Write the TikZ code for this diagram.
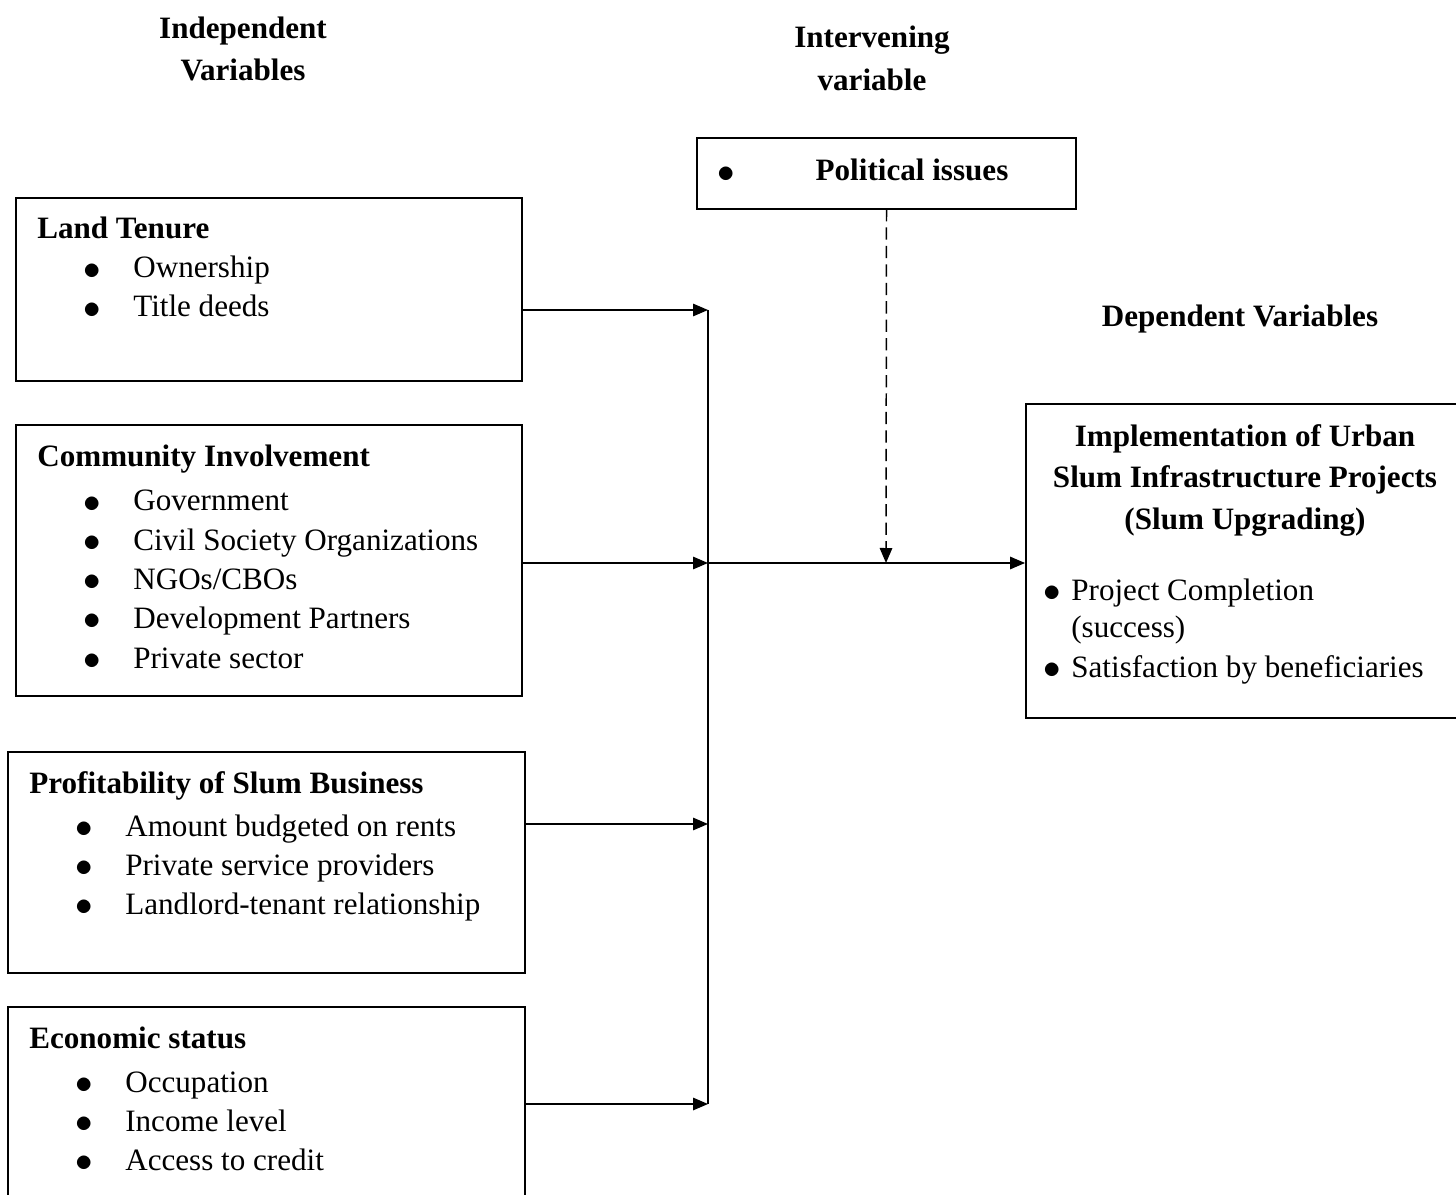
\documentclass[tikz,border=0pt]{standalone}
\usepackage{fontspec}
\setmainfont{Liberation Serif}
\usetikzlibrary{arrows.meta,fit}
\begin{document}
\begin{tikzpicture}[x=0.02cm,y=-0.02cm,
  box/.style={draw,line width=1.1pt,inner sep=0pt},
  txt/.style={anchor=base west,inner sep=0pt,font=\fontsize{17.7pt}{22pt}\selectfont},
  ttl/.style={txt,font=\fontsize{17.7pt}{22pt}\selectfont\bfseries},
  ctr/.style={anchor=base,inner sep=0pt,font=\fontsize{17.7pt}{22pt}\selectfont\bfseries},
  arr/.style={line width=0.85pt,-{Triangle[length=0.3cm,width=0.25cm]}},
  ln/.style={line width=0.85pt}]
\useasboundingbox (0,0) rectangle (1456,1195);
\clip (0,0) rectangle (1456,1195);
\newcommand{\bul}{\makebox[0pt]{\raisebox{-0.04em}{\scalebox{1.15}{$\bullet$}}}}
\newcommand{\itm}[2]{\bul\hspace{#1}#2}
% headings
\node[ctr] (h1a) at (243,39) {Independent};
\node[ctr] (h1b) at (243,81) {Variables};
\node[ctr] (h2a) at (872,48) {Intervening};
\node[ctr] (h2b) at (872,91) {variable};
\node[ctr] (h3) at (1240,327) {Dependent Variables};
% political issues
\node[box,fit={(697,138) (1076,209)}] (pol) {};
\node[txt] (polb) at (725,181) {\bul};
\node[ctr] (polt) at (912,181) {Political issues};
% land tenure
\node[box,fit={(16,198) (522,381)}] (lt) {};
\node[ttl] (ltt) at (37,239) {Land Tenure};
\node[txt] (lt1) at (92,278) {\itm{0.82cm}{Ownership}};
\node[txt] (lt2) at (92,317) {\itm{0.82cm}{Title deeds}};
% community involvement
\node[box,fit={(16,425) (522,696)}] (ci) {};
\node[ttl] (cit) at (37,467) {Community Involvement};
\node[txt] (ci1) at (92,511) {\itm{0.82cm}{Government}};
\node[txt] (ci2) at (92,550) {\itm{0.82cm}{Civil Society Organizations}};
\node[txt] (ci3) at (92,589) {\itm{0.82cm}{NGOs/CBOs}};
\node[txt] (ci4) at (92,628) {\itm{0.82cm}{Development Partners}};
\node[txt] (ci5) at (92,668) {\itm{0.82cm}{Private sector}};
% profitability
\node[box,fit={(8,752) (525,973)}] (pb) {};
\node[ttl] (pbt) at (29,793) {Profitability of Slum Business};
\node[txt] (pb1) at (84,836) {\itm{0.82cm}{Amount budgeted on rents}};
\node[txt] (pb2) at (84,875) {\itm{0.82cm}{Private service providers}};
\node[txt] (pb3) at (84,914) {\itm{0.82cm}{Landlord-tenant relationship}};
% economic status
\node[box,fit={(8,1007) (525,1215)}] (es) {};
\node[ttl] (est) at (29,1048) {Economic status};
\node[txt] (es1) at (84,1092) {\itm{0.82cm}{Occupation}};
\node[txt] (es2) at (84,1131) {\itm{0.82cm}{Income level}};
\node[txt] (es3) at (84,1170) {\itm{0.82cm}{Access to credit}};
% dependent box
\node[box,fit={(1026,404) (1475,718)}] (ib) {};
\node[ctr] (ibt1) at (1245,447) {Implementation of Urban};
\node[ctr] (ibt2) at (1245,488) {Slum Infrastructure Projects};
\node[ctr] (ibt3) at (1245,530) {(Slum Upgrading)};
\node[txt] (ib1) at (1052,600) {\itm{0.38cm}{Project Completion}};
\node[txt] (ib2) at (1071,637) {(success)};
\node[txt] (ib3) at (1052,677) {\itm{0.38cm}{Satisfaction by beneficiaries}};
% connectors
\coordinate (j1) at (708,310);
\coordinate (j2) at (708,563);
\coordinate (j3) at (708,824);
\coordinate (j4) at (708,1104);
\coordinate (jd) at (886,563);
\draw[arr] (lt.east |- j1) -- (j1);
\draw[arr] (ci.east |- j2) -- (j2);
\draw[arr] (pb.east |- j3) -- (j3);
\draw[arr] (es.east |- j4) -- (j4);
\draw[ln] (j1) -- (j4);
\draw[arr] (j2) -- (ib.west |- j2);
\draw[arr,dashed,dash pattern=on 7pt off 3.5pt] (pol.south |- 0,209) -- (jd);
\end{tikzpicture}
\end{document}
